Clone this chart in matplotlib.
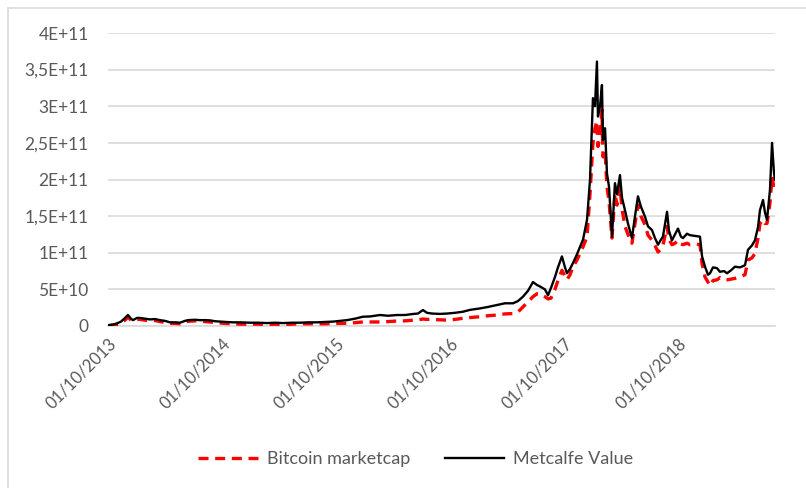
import matplotlib
matplotlib.use("Agg")
import matplotlib.pyplot as plt
from matplotlib.lines import Line2D

# time in decimal years
t = [2013.750, 2013.794, 2013.829, 2013.864, 2013.899, 2013.925, 2013.952, 2013.969, 2014.004, 2014.031,
     2014.075, 2014.118, 2014.162, 2014.206, 2014.250, 2014.294, 2014.338, 2014.382, 2014.425, 2014.452,
     2014.513, 2014.557, 2014.601, 2014.645, 2014.689, 2014.732, 2014.785, 2014.846, 2014.908, 2014.996,
     2015.066, 2015.145, 2015.215, 2015.285, 2015.364, 2015.434, 2015.504, 2015.583, 2015.654, 2015.724,
     2015.785, 2015.846, 2015.917, 2015.987, 2016.048, 2016.136, 2016.206, 2016.285, 2016.355, 2016.425,
     2016.469, 2016.513, 2016.548, 2016.592, 2016.662, 2016.724, 2016.794, 2016.864, 2016.925, 2017.013,
     2017.083, 2017.162, 2017.232, 2017.303, 2017.346, 2017.390, 2017.434, 2017.478, 2017.513, 2017.539,
     2017.583, 2017.610, 2017.636, 2017.671, 2017.697, 2017.732, 2017.759, 2017.776, 2017.803, 2017.829,
     2017.864, 2017.890, 2017.917, 2017.952, 2017.978, 2018.004, 2018.022, 2018.039, 2018.048, 2018.066,
     2018.083, 2018.092, 2018.110, 2018.127, 2018.145, 2018.171, 2018.197, 2018.215, 2018.241, 2018.259,
     2018.285, 2018.311, 2018.346, 2018.373, 2018.399, 2018.425, 2018.461, 2018.487, 2018.522, 2018.548,
     2018.575, 2018.601, 2018.618, 2018.654, 2018.671, 2018.697, 2018.724, 2018.750, 2018.776, 2018.794,
     2018.829, 2018.855, 2018.899, 2018.943, 2018.961, 2018.987, 2019.013, 2019.031, 2019.057, 2019.092,
     2019.118, 2019.154, 2019.180, 2019.215, 2019.250, 2019.294, 2019.338, 2019.364, 2019.399, 2019.425,
     2019.452, 2019.469, 2019.496, 2019.513, 2019.531, 2019.557, 2019.575, 2019.592, 2019.601]

# values in billions
metcalfe = [1, 2, 3.6, 6, 11, 15, 10, 8, 11, 11,
            10, 9, 9.5, 8, 7, 5, 5, 4.5, 7, 8,
            8.5, 8, 8, 7.7, 6.5, 6, 5.5, 5, 5, 4.5,
            4.5, 4, 4.5, 4, 4.5, 4.5, 5, 5, 5.5, 6,
            7, 8, 10, 12.7, 13, 15, 14, 15, 15, 16.4,
            17, 21.8, 18, 17, 16.5, 17, 18, 19.5, 22, 24,
            26, 28.7, 31, 31, 34, 40, 48, 60, 56, 54,
            50, 42, 52, 67, 80, 95, 80, 72, 78, 86,
            98, 108, 118, 145, 199, 311, 300, 361, 286, 300,
            329, 254, 270, 208, 190, 122, 195, 180, 206, 175,
            158, 140, 120, 150, 177, 163, 149, 136, 131, 120,
            111, 118, 122, 156, 130, 117, 125, 133, 122, 120,
            126, 124, 123, 122, 95, 81, 70, 72, 80, 79,
            74, 75, 72, 76, 81, 80, 83, 104, 110, 117,
            135, 158, 172, 155, 145, 186, 250, 209, 200]

marketcap = [0.5, 1, 2, 4, 8, 12, 8, 7, 9, 9,
             8, 7, 7.5, 6, 5, 3.5, 3.5, 3, 5, 6.5,
             7, 6.5, 6, 5.5, 4.5, 4, 3.5, 3, 2.5, 2.5,
             2.5, 2, 2.5, 2, 2.5, 3, 3, 3, 3, 3.5,
             3.5, 3.6, 4.5, 5.5, 5.5, 5.5, 6, 6.8, 7, 8,
             8.5, 9.5, 9, 9, 8.5, 8, 9, 10.5, 11.5, 12.7,
             14, 15, 16.5, 17, 19, 26, 33, 40, 44, 44,
             40, 37, 38, 50, 62, 76, 68, 63, 70, 81,
             90, 99, 108, 122, 180, 250, 270, 280, 245, 260,
             295, 231, 240, 190, 170, 120, 181, 165, 190, 160,
             136, 125, 113, 140, 165, 150, 138, 124, 117, 110,
             101, 105, 110, 136, 118, 111, 113, 117, 112, 111,
             113, 111, 112, 111, 85, 67, 60, 55, 62, 63,
             66, 63, 63, 64, 65, 67, 70, 90, 93, 99,
             120, 140, 145, 140, 140, 168, 204, 188, 185]

tick_pos = [2013.75, 2014.75, 2015.75, 2016.75, 2017.75, 2018.75]
tick_labels = ["01/10/2013", "01/10/2014", "01/10/2015", "01/10/2016", "01/10/2017", "01/10/2018"]
y_ticks = [0, 5e10, 1e11, 1.5e11, 2e11, 2.5e11, 3e11, 3.5e11, 4e11]
y_labels = ["0", "5E+10", "1E+11", "1,5E+11", "2E+11", "2,5E+11", "3E+11", "3,5E+11", "4E+11"]

plt.rcParams['font.family'] = ['Lato', 'DejaVu Sans']
txt = '#595959'
dash = (0, (3.0, 2.0))

fig = plt.figure(figsize=(8.06, 4.88), dpi=100)
ax = fig.add_axes([108/806, 1-326/488, (775-108)/806, (326-33)/488])

mc = [v*1e9 for v in marketcap]
me = [v*1e9 for v in metcalfe]
ax.plot(t, mc, color='#ff0000', lw=2.4, ls=dash, label='Bitcoin marketcap', zorder=3)
ax.plot(t, me, color='black', lw=1.7, label='Metcalfe Value', zorder=4)

ax.set_xlim(2013.75, 2019.601)
ax.set_ylim(0, 4e11)
ax.set_yticks(y_ticks)
ax.set_yticklabels(y_labels, color=txt, fontsize=12.5)
ax.set_xticks(tick_pos)
ax.set_xticklabels(tick_labels, color=txt, fontsize=12, rotation=45, ha='right', rotation_mode='anchor')
ax.tick_params(axis='y', length=0, pad=14)
ax.tick_params(axis='x', length=0, pad=7)
ax.grid(axis='y', color='#d9d9d9', lw=1.2)
ax.set_axisbelow(True)
for s in ['top', 'right', 'left']:
    ax.spines[s].set_visible(False)
ax.spines['bottom'].set_color('#d9d9d9')
ax.spines['bottom'].set_linewidth(1.2)

handles = [Line2D([0], [0], color='#ff0000', lw=2.4, ls=dash),
           Line2D([0], [0], color='black', lw=1.7)]
fig.legend(handles, ['Bitcoin marketcap', 'Metcalfe Value'], loc='center',
           bbox_to_anchor=(0.516, 1-459/488), ncol=2, frameon=False, fontsize=13,
           labelcolor=txt, handlelength=3.3, columnspacing=1.9, handletextpad=0.5)

fig.add_artist(Line2D([8/806, 1], [1-8/488, 1-8/488], color='#d9d9d9', lw=1.2, transform=fig.transFigure))
fig.add_artist(Line2D([8/806, 8/806], [0, 1-8/488], color='#d9d9d9', lw=1.2, transform=fig.transFigure))

fig.savefig('out.png', dpi=100)
